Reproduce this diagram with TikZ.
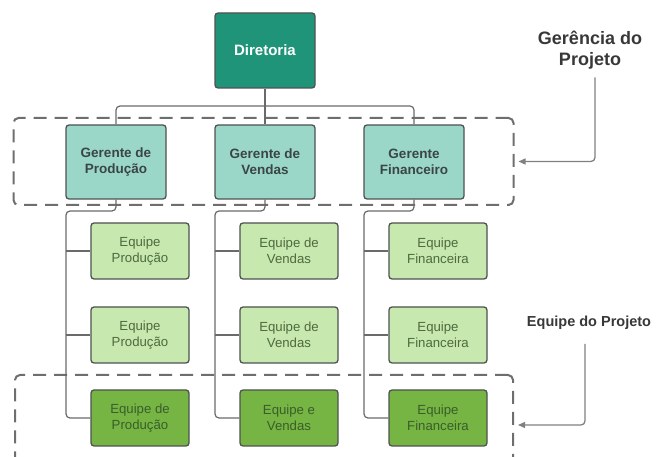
\documentclass[tikz,border=0pt]{standalone}
\usepackage{fontspec}
\setmainfont{Liberation Sans}
\usetikzlibrary{arrows.meta}
\definecolor{dirfill}{HTML}{1F9479}
\definecolor{gerfill}{HTML}{9BD7C9}
\definecolor{eqlight}{HTML}{C7E8AF}
\definecolor{eqdark}{HTML}{76B544}
\definecolor{boxline}{HTML}{4E5250}
\definecolor{dashcol}{HTML}{6E6E6E}
\definecolor{conncol}{HTML}{6A6A6A}
\definecolor{gertext}{HTML}{3A4644}
\definecolor{eqtext}{HTML}{4E6A3E}
\definecolor{eqdtext}{HTML}{3A5E2A}
\definecolor{labtext}{HTML}{383838}
\tikzset{
  orgbox/.style={draw=boxline, line width=1.3pt, rounded corners=3pt, align=center, inner sep=0pt},
  dirbox/.style={orgbox, fill=dirfill, minimum width=100pt, minimum height=75pt, text=white, font=\fontsize{15}{18}\selectfont\bfseries},
  gerbox/.style={orgbox, fill=gerfill, minimum width=100pt, minimum height=74pt, text=gertext, font=\fontsize{13.5}{16}\selectfont\bfseries},
  eqbox/.style={orgbox, fill=eqlight, minimum width=98pt, minimum height=56pt, text=eqtext, font=\fontsize{13.2}{15.5}\selectfont},
  eqdbox/.style={orgbox, fill=eqdark, minimum width=98pt, minimum height=56pt, text=eqdtext, font=\fontsize{13.2}{15.5}\selectfont},
  dashbox/.style={draw=dashcol, line width=2pt, dash pattern=on 13pt off 8pt, rounded corners=5pt, inner sep=0pt},
  conn/.style={draw=conncol, line width=1.2pt, rounded corners=4pt},
  pointer/.style={draw=conncol!85, line width=1.3pt, rounded corners=4pt, -{Triangle[length=7pt,width=6pt]}},
  labelnode/.style={text=labtext, align=center, inner sep=0pt},
}
\begin{document}
\begin{tikzpicture}[x=1pt,y=-1pt]
\useasboundingbox (0,0) rectangle (657,457);
\begin{scope}
\clip (0,0) rectangle (657,457);
% dashed group boxes
\node[dashbox, minimum width=500pt, minimum height=87pt] (bx1) at (263.5,161.5) {};
\node[dashbox, minimum width=498pt, minimum height=100pt] (bx2) at (264,425) {};
\end{scope}
% nodes
\node[dirbox] (dir) at (265,50.5) {Diretoria};
\node[gerbox] (gp) at (116,162) {Gerente de\\Produção};
\node[gerbox] (gv) at (265,162) {Gerente de\\Vendas};
\node[gerbox] (gf) at (414,162) {Gerente\\Financeiro};
\node[eqbox] (ep1) at (140,251) {Equipe\\Produção};
\node[eqbox] (ep2) at (140,335) {Equipe\\Produção};
\node[eqdbox] (ep3) at (140,418) {Equipe de\\Produção};
\node[eqbox] (ev1) at (289,251) {Equipe de\\Vendas};
\node[eqbox] (ev2) at (289,335) {Equipe de\\Vendas};
\node[eqdbox] (ev3) at (289,418) {Equipe e\\Vendas};
\node[eqbox] (ef1) at (438,251) {Equipe\\Financeira};
\node[eqbox] (ef2) at (438,335) {Equipe\\Financeira};
\node[eqdbox] (ef3) at (438,418) {Equipe\\Financeira};
\node[labelnode, font=\fontsize{18}{21}\selectfont\bfseries] (lg) at (590,50) {Gerência do\\Projeto};
\node[labelnode, font=\fontsize{14.5}{17}\selectfont\bfseries] (le) at (589,323) {Equipe do Projeto};
% connectors
\coordinate (hub) at (265,106);
\draw[conn] (dir.south) -- (gv.north);
\draw[conn] (gp.north) |- (hub) -| (gf.north);
\coordinate (cp) at (66,211);
\coordinate (cv) at (215,211);
\coordinate (cf) at (364,211);
\draw[conn] (gp.south) |- (cp) |- (ep3.west);
\draw[conn] (cp |- ep1.west) -- (ep1.west);
\draw[conn] (cp |- ep2.west) -- (ep2.west);
\draw[conn] (gv.south) |- (cv) |- (ev3.west);
\draw[conn] (cv |- ev1.west) -- (ev1.west);
\draw[conn] (cv |- ev2.west) -- (ev2.west);
\draw[conn] (gf.south) |- (cf) |- (ef3.west);
\draw[conn] (cf |- ef1.west) -- (ef1.west);
\draw[conn] (cf |- ef2.west) -- (ef2.west);
% pointers
\draw[pointer] ([xshift=5pt,yshift=-8pt]lg.south) |- ([xshift=4pt]bx1.east);
\draw[pointer] ([xshift=-4pt,yshift=-14pt]le.south) |- ([xshift=4pt]bx2.east);
\end{tikzpicture}
\end{document}
